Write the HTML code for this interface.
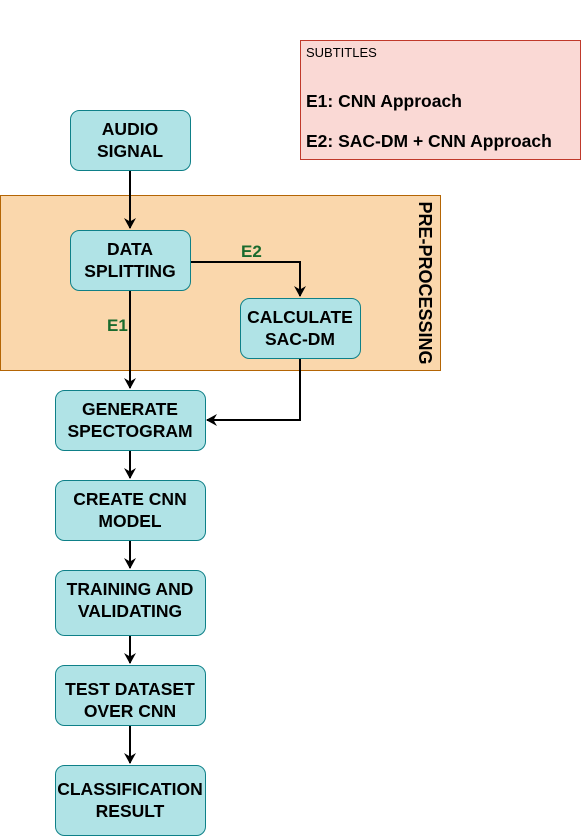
<!DOCTYPE html>
<html><head><meta charset="utf-8"><style>body{margin:0;background:#fff}svg{display:block}</style></head>
<body>
<svg width="581" height="836" xmlns="http://www.w3.org/2000/svg" font-family="Liberation Sans, Arial, sans-serif">
<defs><marker id="a" markerWidth="12" markerHeight="12" refX="10" refY="6" orient="auto" markerUnits="userSpaceOnUse"><path d="M0,0 L11,6 L0,12 L3.5,6 Z" fill="#000"/></marker></defs>
<rect x="300.5" y="40.5" width="280" height="119" fill="#fad9d5" stroke="#c0392b"/>
<text x="306" y="57" font-size="13" fill="#000">SUBTITLES</text>
<text x="306" y="107" font-size="17.5" font-weight="bold">E1: CNN Approach</text>
<text x="306" y="147" font-size="17.5" font-weight="bold">E2: SAC-DM + CNN Approach</text>
<rect x="0.5" y="195.5" width="440" height="175" fill="#fad7ac" stroke="#b46504"/>
<text transform="translate(419,283) rotate(90)" font-size="18" font-weight="bold" text-anchor="middle">PRE-PROCESSING</text>
<g stroke="#000" stroke-width="2" fill="none">
<path d="M130 170 V228" marker-end="url(#a)"/>
<path d="M130 290 V388" marker-end="url(#a)"/>
<path d="M190 262 H300 V296" marker-end="url(#a)"/>
<path d="M300 358 V420 H207" marker-end="url(#a)"/>
<path d="M130 450 V478" marker-end="url(#a)"/>
<path d="M130 540 V568" marker-end="url(#a)"/>
<path d="M130 635 V663" marker-end="url(#a)"/>
<path d="M130 725 V763" marker-end="url(#a)"/>
</g>
<text x="241" y="257" font-size="17" font-weight="bold" fill="#1a6b2e">E2</text>
<text x="107" y="331" font-size="17" font-weight="bold" fill="#1a6b2e">E1</text>
<g fill="#b0e3e6" stroke="#0e8088">
<rect x="70.5" y="110.5" width="120" height="60" rx="9"/>
<rect x="70.5" y="230.5" width="120" height="60" rx="9"/>
<rect x="240.5" y="298.5" width="120" height="60" rx="9"/>
<rect x="55.5" y="390.5" width="150" height="60" rx="9"/>
<rect x="55.5" y="480.5" width="150" height="60" rx="9"/>
<rect x="55.5" y="570.5" width="150" height="65" rx="9"/>
<rect x="55.5" y="665.5" width="150" height="60" rx="9"/>
<rect x="55.5" y="765.5" width="150" height="70" rx="9"/>
</g>
<g font-size="17.5" font-weight="bold" text-anchor="middle">
<text x="130" y="135">AUDIO</text><text x="130" y="157">SIGNAL</text>
<text x="130" y="255">DATA</text><text x="130" y="277">SPLITTING</text>
<text x="300" y="323">CALCULATE</text><text x="300" y="345">SAC-DM</text>
<text x="130" y="415">GENERATE</text><text x="130" y="437">SPECTOGRAM</text>
<text x="130" y="505">CREATE CNN</text><text x="130" y="527">MODEL</text>
<text x="130" y="595">TRAINING AND</text><text x="130" y="617">VALIDATING</text>
<text x="130" y="695">TEST DATASET</text><text x="130" y="717">OVER CNN</text>
<text x="130" y="795">CLASSIFICATION</text><text x="130" y="817">RESULT</text>
</g>
</svg>
</body></html>
